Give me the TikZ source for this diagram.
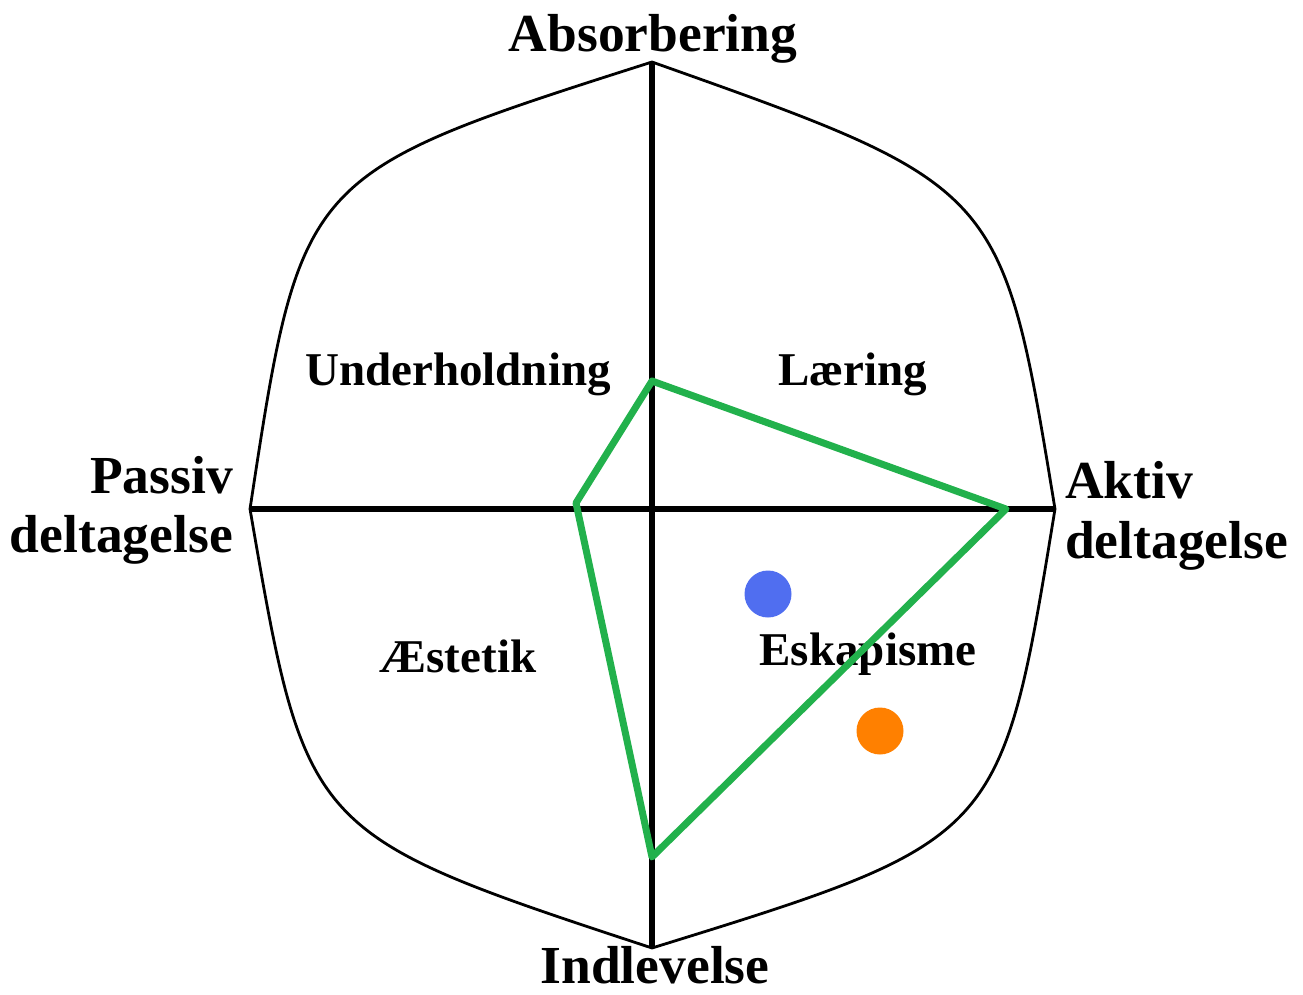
\documentclass[tikz,border=0pt]{standalone}
\usepackage{fontspec}
\setmainfont{Liberation Serif}
\begin{document}
\begin{tikzpicture}[x=1pt,y=-1pt,
  outline/.style={draw=black,line width=2.8pt,line join=round},
  axis/.style={draw=black,line width=6pt},
  profile/.style={draw=grn,line width=7pt,line join=round},
  biglabel/.style={font=\fontsize{53.5}{60}\selectfont\bfseries,inner sep=0pt},
  quadlabel/.style={font=\fontsize{47}{52}\selectfont\bfseries,inner sep=0pt},
  dot/.style={circle,minimum size=47pt,inner sep=0pt}]
\definecolor{grn}{HTML}{22B14C}
\definecolor{dotblue}{HTML}{506EF0}
\definecolor{dotorange}{HTML}{FF8000}
\useasboundingbox (0,0) rectangle (1303,995);
% axis end points
\coordinate (T) at (652,62);
\coordinate (R) at (1055,509);
\coordinate (B) at (652,948);
\coordinate (L) at (250,509);
% corner controls of the outline
\coordinate (cTL) at (301,174);
\coordinate (cTR) at (1002,186);
\coordinate (cBR) at (1001,840);
\coordinate (cBL) at (306,834);
\draw[outline] (T) .. controls (cTR) and (cTR) .. (R)
  .. controls (cBR) and (cBR) .. (B)
  .. controls (cBL) and (cBL) .. (L)
  .. controls (cTL) and (cTL) .. cycle;
\draw[axis] (T) -- (B);
\draw[axis] (L) -- (R);
% labels
\node[biglabel,anchor=base] (absorb) at (653,52) {Absorbering};
\node[biglabel,anchor=base] (indlev) at (655,983) {Indlevelse};
\node[biglabel,anchor=base east] (passiv1) at (233,493) {Passiv};
\node[biglabel,anchor=base east] (passiv2) at (233,552) {deltagelse};
\node[biglabel,anchor=base west] (aktiv1) at (1065,498) {Aktiv};
\node[biglabel,anchor=base west] (aktiv2) at (1065,558) {deltagelse};
\node[quadlabel,anchor=base] (under) at (458,385) {Underholdning};
\node[quadlabel,anchor=base] (laering) at (853,385) {Læring};
\node[quadlabel,anchor=base] (aestetik) at (458,672) {Æstetik};
\node[quadlabel,anchor=base] (eskap) at (868,665) {Eskapisme};
% dots
\node[dot,fill=dotblue] (blue) at (768,594) {};
\node[dot,fill=dotorange] (orange) at (880,731) {};
% profile
\coordinate (g1) at (652,381);
\coordinate (g2) at (1006,509);
\coordinate (g3) at (652,857);
\coordinate (g4) at (576,503);
\draw[profile] (g1) -- (g2) -- (g3) -- (g4) -- cycle;
\end{tikzpicture}
\end{document}
